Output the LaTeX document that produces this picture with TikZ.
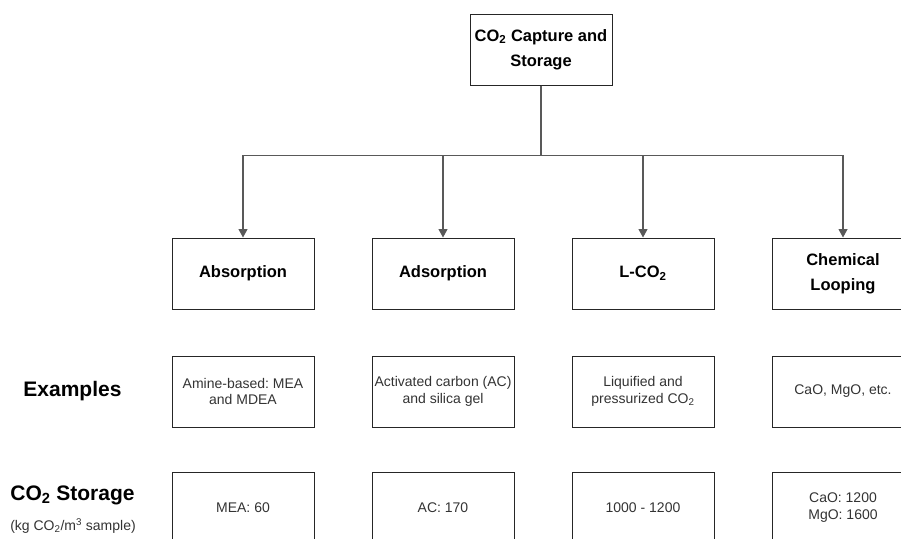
\documentclass[tikz,border=0pt]{standalone}
\usepackage{fontspec}
\setmainfont{Liberation Sans}
\usetikzlibrary{arrows.meta}
\newcommand{\lowtwo}{\textsubscript{2}}
\frenchspacing
\begin{document}
\begin{tikzpicture}[x=1pt,y=-1pt,
  box/.style={draw=black!85,line width=1pt,minimum width=142pt,minimum height=71pt,
    align=center,inner sep=2pt},
  headbox/.style={box,font=\bfseries\fontsize{16.5}{25}\selectfont,text=black},
  infobox/.style={box,font=\fontsize{14}{16.5}\selectfont,text=black!80},
  rowlabel/.style={font=\bfseries\fontsize{21}{24}\selectfont,text=black},
  unitlabel/.style={font=\fontsize{14}{16}\selectfont,text=black!80},
  link/.style={draw=black!65,line width=1.1pt,-{Triangle[width=9pt,length=8.5pt]}}]
\useasboundingbox (0,0) rectangle (901,538);
\clip (0,0) rectangle (901,538);

% root of the tree
\node[headbox] (root) at (541,49.5) {CO\lowtwo{} Capture and\\Storage};
\coordinate (bus) at (541,155.5);

% capture methods
\node[headbox] (abs) at (243,273.5) {Absorption};
\node[headbox] (ads) at (443,273.5) {Adsorption};
\node[headbox] (lco) at (643,273.5) {L-CO\lowtwo};
\node[headbox] (chl) at (843,273.5) {Chemical\\Looping};

% examples row
\node[rowlabel] (exlabel) at (72.5,391.5) {Examples};
\node[infobox] (exabs) at (243,391.5) {Amine-based: MEA\\and MDEA};
\node[infobox] (exads) at (443,391.5) {Activated carbon (AC)\\and silica gel};
\node[infobox] (exlco) at (643,391.5) {Liquified and\\pressurized CO\lowtwo};
\node[infobox] (exchl) at (843,391.5) {CaO, MgO, etc.};

% storage row
\node[rowlabel] (stlabel) at (72.5,495) {CO\lowtwo{} Storage};
\node[unitlabel] (stunit) at (73,526) {(kg CO\lowtwo/m\textsuperscript{3} sample)};
\node[infobox] (stabs) at (243,507.5) {MEA: 60};
\node[infobox] (stads) at (443,507.5) {AC: 170};
\node[infobox] (stlco) at (643,507.5) {1000 - 1200};
\node[infobox] (stchl) at (843,507.5) {CaO: 1200\\MgO: 1600};

% connectors from the root to each method
\foreach \m in {abs,ads,lco,chl}
  \draw[link] (root) -- (bus) -| (\m);
\end{tikzpicture}
\end{document}
